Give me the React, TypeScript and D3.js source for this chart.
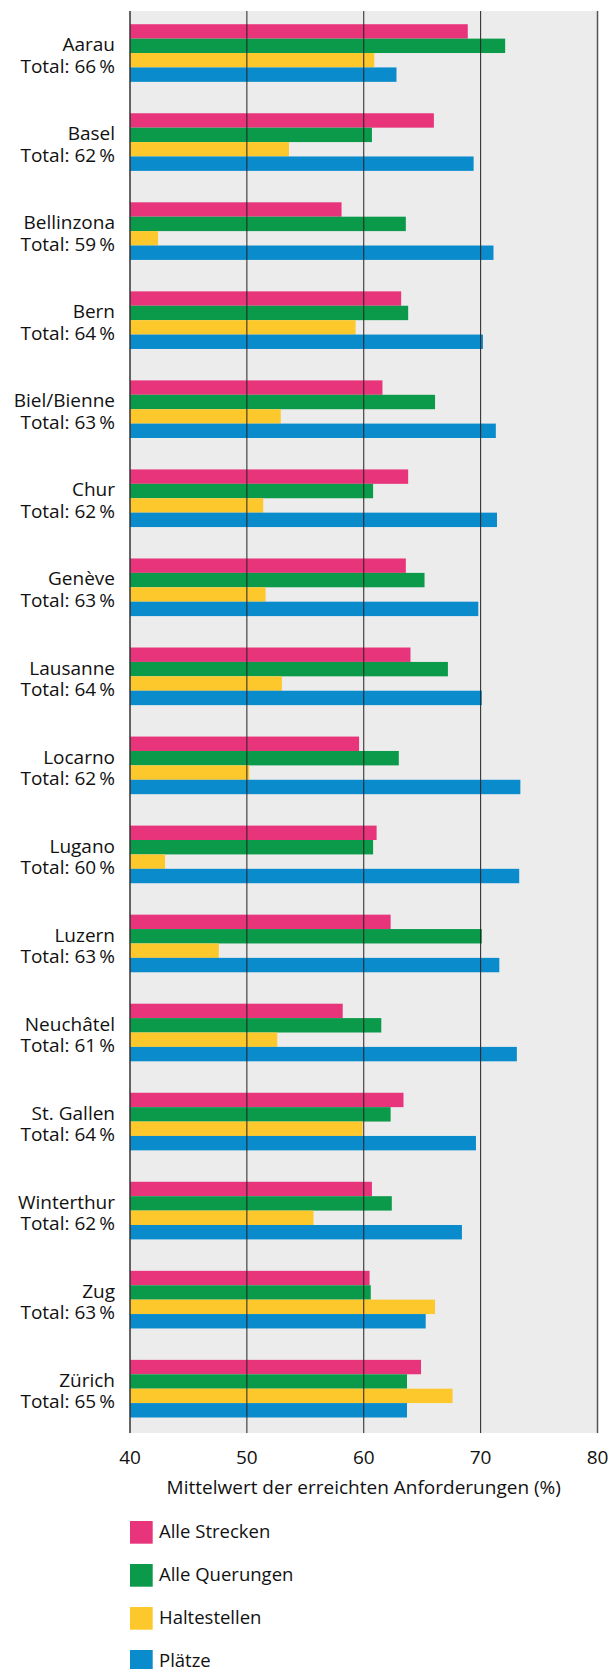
import React from "react";
import * as d3 from "d3";

const cities = [
  "Aarau", "Basel", "Bellinzona", "Bern", "Biel/Bienne", "Chur", "Genève", "Lausanne",
  "Locarno", "Lugano", "Luzern", "Neuchâtel", "St. Gallen", "Winterthur", "Zug", "Zürich",
];
const totals = [66, 62, 59, 64, 63, 62, 63, 64, 62, 60, 63, 61, 64, 62, 63, 65];

const seriesNames = ["Alle Strecken", "Alle Querungen", "Haltestellen", "Plätze"];
const seriesColors = ["#E8347A", "#0A9A4A", "#FDC82C", "#0A8BCC"];

const alleStrecken = [68.9, 66.0, 58.1, 63.2, 61.6, 63.8, 63.6, 64.0, 59.6, 61.1, 62.3, 58.2, 63.4, 60.7, 60.5, 64.9];
const alleQuerungen = [72.1, 60.7, 63.6, 63.8, 66.1, 60.8, 65.2, 67.2, 63.0, 60.8, 70.1, 61.5, 62.3, 62.4, 60.6, 63.7];
const haltestellen = [60.9, 53.6, 42.4, 59.3, 52.9, 51.4, 51.6, 53.0, 50.2, 43.0, 47.6, 52.6, 59.9, 55.7, 66.1, 67.6];
const plaetze = [62.8, 69.4, 71.1, 70.2, 71.3, 71.4, 69.8, 70.1, 73.4, 73.3, 71.6, 73.1, 69.6, 68.4, 65.3, 63.7];

const seriesValues = [alleStrecken, alleQuerungen, haltestellen, plaetze];
const xTicks = [40, 50, 60, 70, 80];
const xTitle = "Mittelwert der erreichten Anforderungen (%)";

const W = 611;
const H = 1669;
const FONT = "'Open Sans', sans-serif";

export default function App() {
  const x = d3.scaleLinear().domain([40, 80]).range([130, 597.5]);
  const plotTop = 11;
  const plotBottom = 1433;
  const pad = 0.353;
  const y = d3
    .scaleBand<string>()
    .domain(cities)
    .range([8.5, 1433.2])
    .paddingInner(pad)
    .paddingOuter(pad / 2);
  const sub = d3
    .scaleBand<string>()
    .domain(seriesNames)
    .range([0, y.bandwidth()]);

  const labelX = 115;

  return (
    <svg
      width={W}
      height={H}
      style={{ position: "absolute", left: 0, top: 0, display: "block" }}
      fontFamily={FONT}
    >
      <rect x={0} y={0} width={W} height={H} fill="#fff" />
      <rect
        x={x(40)}
        y={plotTop}
        width={x(80) - x(40)}
        height={plotBottom - plotTop}
        fill="#ECECEC"
      />
      {cities.map((c, i) => (
        <g key={c}>
          {seriesValues.map((vals, s) => (
            <rect
              key={s}
              x={x(40)}
              y={(y(c) as number) + (sub(seriesNames[s]) as number)}
              width={x(vals[i]) - x(40)}
              height={sub.bandwidth()}
              fill={seriesColors[s]}
            />
          ))}
        </g>
      ))}
      {xTicks.map((t) => (
        <line
          key={t}
          x1={x(t)}
          x2={x(t)}
          y1={plotTop}
          y2={plotBottom}
          stroke={t === 40 ? "#333" : t === 80 ? "#555" : "#222"}
          strokeWidth={t === 40 || t === 80 ? 1.5 : 1}
        />
      ))}
      {cities.map((c, i) => {
        const cy = (y(c) as number) + y.bandwidth() / 2;
        return (
          <g key={c}>
            <text x={labelX} y={cy - 1.8} textAnchor="end" fontSize={19} fill="#111">
              {c}
            </text>
            <text x={labelX} y={cy + 19.7} textAnchor="end" fontSize={19} fill="#111">
              {`Total: ${totals[i]}\u2009%`}
            </text>
          </g>
        );
      })}
      {xTicks.map((t) => (
        <text
          key={t}
          x={x(t)}
          y={1464}
          textAnchor="middle"
          fontSize={19}
          fill="#111"
        >
          {t}
        </text>
      ))}
      <text
        x={(x(40) + x(80)) / 2}
        y={1494}
        textAnchor="middle"
        fontSize={19}
        fill="#111"
      >
        {xTitle}
      </text>
      {seriesNames.map((n, s) => {
        const top = 1521 + s * 43;
        return (
          <g key={n}>
            <rect x={130} y={top} width={22.7} height={22.7} fill={seriesColors[s]} />
            <text x={159} y={top + 17} fontSize={18.5} fill="#111">
              {n}
            </text>
          </g>
        );
      })}
    </svg>
  );
}
